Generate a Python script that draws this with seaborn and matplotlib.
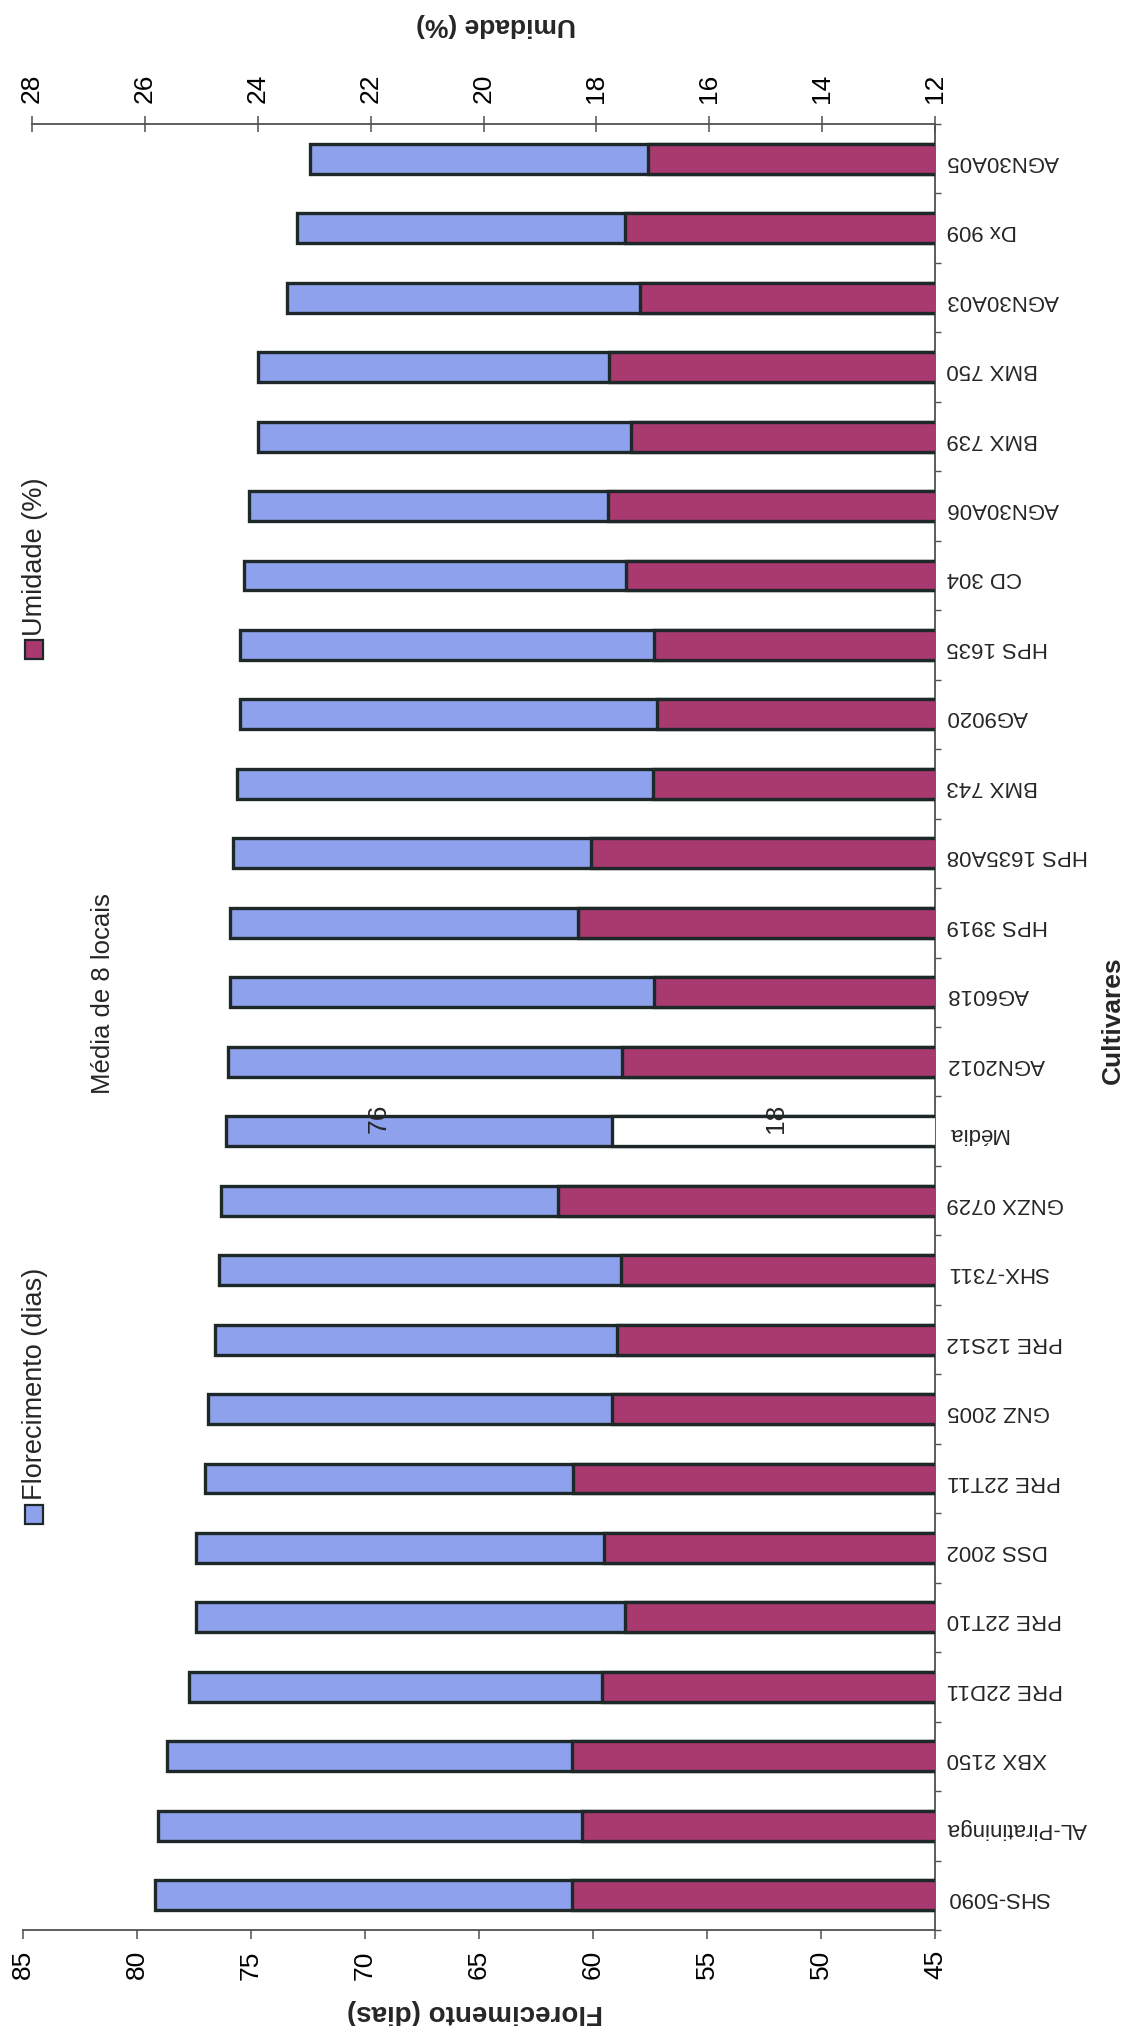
import numpy as np
import pandas as pd
import matplotlib
matplotlib.use("Agg")
import matplotlib.pyplot as plt
import seaborn as sns
from matplotlib.patches import Rectangle
from matplotlib.ticker import FixedLocator

# ---------------- data (top to bottom as drawn) ----------------
cultivares = ["AGN30A05", "Dx 909", "AGN30A03", "BMX 750", "BMX 739", "AGN30A06",
              "CD 304", "HPS 1635", "AG9020", "BMX 743", "HPS 1635A08", "HPS 3919",
              "AG6018", "AGN2012", "Média", "GNZX 0729", "SHX-7311", "PRE 12S12",
              "GNZ 2005", "PRE 22T11", "DSS 2002", "PRE 22T10", "PRE 22D11",
              "XBX 2150", "AL-Piratininga", "SHS-5090"]
florecimento = [72.4, 73.0, 73.4, 74.7, 74.7, 75.1, 75.3, 75.5, 75.5, 75.6, 75.8, 75.9,
                75.9, 76.0, 76.1, 76.3, 76.4, 76.6, 76.9, 77.0, 77.4, 77.4, 77.7,
                78.7, 79.1, 79.2]
umidade = [17.08, 17.50, 17.22, 17.77, 17.38, 17.80, 17.47, 16.98, 16.92, 16.99, 18.10,
           18.33, 16.98, 17.54, 17.72, 18.68, 17.57, 17.64, 17.72, 18.41, 17.87, 17.50,
           17.90, 18.44, 18.25, 18.44]
flor_ticks = [45, 50, 55, 60, 65, 70, 75, 80, 85]
umid_ticks = [12, 14, 16, 18, 20, 22, 24, 26, 28]

sns.set_style("white")
plt.rcParams['font.family'] = ['Liberation Sans', 'DejaVu Sans']

BLUE = "#8DA1EC"
RED = "#A93A70"
EDGE = "#1E2828"
AXC = "#505050"

W, H = 1131, 2026
fig = plt.figure(figsize=(W / 100, H / 100), dpi=100)
fig.patch.set_facecolor("white")


def fx(px):
    return px / W


def fy(py):
    return 1 - py / H


ax = fig.add_axes([fx(23), fy(1930), fx(935) - fx(23), fy(124) - fy(1930)])
df = pd.DataFrame({"Cultivar": cultivares, "Florecimento": florecimento, "Umidade": umidade})
n = len(cultivares)

sns.barplot(data=df, x="Florecimento", y="Cultivar", order=cultivares, color=BLUE,
            saturation=1, width=0.43, edgecolor=EDGE, linewidth=2.4, orient="h", ax=ax)

ax2 = ax.twiny()
pal = {c: ("white" if c == "Média" else RED) for c in cultivares}
sns.barplot(data=df, x="Umidade", y="Cultivar", order=cultivares, hue="Cultivar",
            palette=pal, legend=False, saturation=1, width=0.43, edgecolor=EDGE,
            linewidth=2.4, orient="h", ax=ax2)

ax.set_xlim(85, 45)
ax2.set_xlim(28.16, 12)
ax.set_ylim(n - 0.5, -0.5)
ax2.yaxis.set_visible(False)
ax2.patch.set_visible(False)

# spines
for s in ["left", "top"]:
    ax.spines[s].set_visible(False)
ax.spines["bottom"].set_bounds(45, 85)
for s in ["left", "right", "bottom"]:
    ax2.spines[s].set_visible(False)
ax2.spines["top"].set_bounds(12, 28)
for s in ax.spines.values():
    s.set_color(AXC); s.set_linewidth(1.3)
for s in ax2.spines.values():
    s.set_color(AXC); s.set_linewidth(1.3)

# x ticks
ax.set_xticks(flor_ticks)
ax.set_xticklabels([str(t) for t in flor_ticks], rotation=90)
ax.tick_params(axis="x", direction="out", length=6.5, width=1.1, pad=8, labelsize=19,
               color=AXC, labelcolor="black")
ax2.set_xticks(umid_ticks)
ax2.set_xticklabels([str(t) for t in umid_ticks], rotation=90)
ax2.tick_params(axis="x", direction="inout", length=12, width=1.1, pad=9, labelsize=19,
                color=AXC, labelcolor="black")

# category axis
ax.yaxis.tick_right()
ax.set_yticks(range(n))
ax.set_yticklabels(cultivares, rotation=180, fontsize=16)
ax.tick_params(axis="y", which="major", length=0, pad=8.5)
ax.yaxis.set_minor_locator(FixedLocator(np.arange(-0.5, n, 1)))
ax.tick_params(axis="y", which="minor", direction="out", length=4.5, width=1, color=AXC)
ax.set_ylabel("")
ax2.set_ylabel("")

# axis titles
ax.set_xlabel("Florecimento (dias)", fontsize=20, fontweight="bold", rotation=180,
              va="center", ha="center")
ax.xaxis.set_label_coords(0.4956, -0.0454)
ax2.set_xlabel("Umidade (%)", fontsize=19, fontweight="bold", rotation=180,
               va="center", ha="center")
ax2.xaxis.set_label_coords(0.5186, 1.0548)
fig.text(fx(1113), fy(1020), "Cultivares", fontsize=19, fontweight="bold", rotation=90,
         ha="center", va="center")

# data labels for the mean
mi = cultivares.index("Média")
ax.text(florecimento[mi] - 6.7, mi - 0.19, f"{florecimento[mi]:.0f}", rotation=90,
        ha="center", va="center", fontsize=19)
ax2.text(umidade[mi] - 2.9, mi - 0.19, f"{umidade[mi]:.0f}", rotation=90,
         ha="center", va="center", fontsize=19)

# title
fig.text(fx(103), fy(994), "Média de 8 locais", rotation=90, ha="center", va="center",
         fontsize=18.5)

# legend
fig.add_artist(Rectangle((fx(25), fy(1524)), 18 / W, 19 / H, transform=fig.transFigure,
                         facecolor=BLUE, edgecolor=EDGE, lw=1.6))
fig.text(fx(35), fy(1500), "Florecimento (dias)", rotation=90, ha="center", va="bottom",
         fontsize=19.5)
fig.add_artist(Rectangle((fx(25), fy(659)), 18 / W, 19 / H, transform=fig.transFigure,
                         facecolor=RED, edgecolor=EDGE, lw=1.6))
fig.text(fx(35), fy(636), "Umidade (%)", rotation=90, ha="center", va="bottom",
         fontsize=19.5)

fig.savefig("out.png", dpi=100)
